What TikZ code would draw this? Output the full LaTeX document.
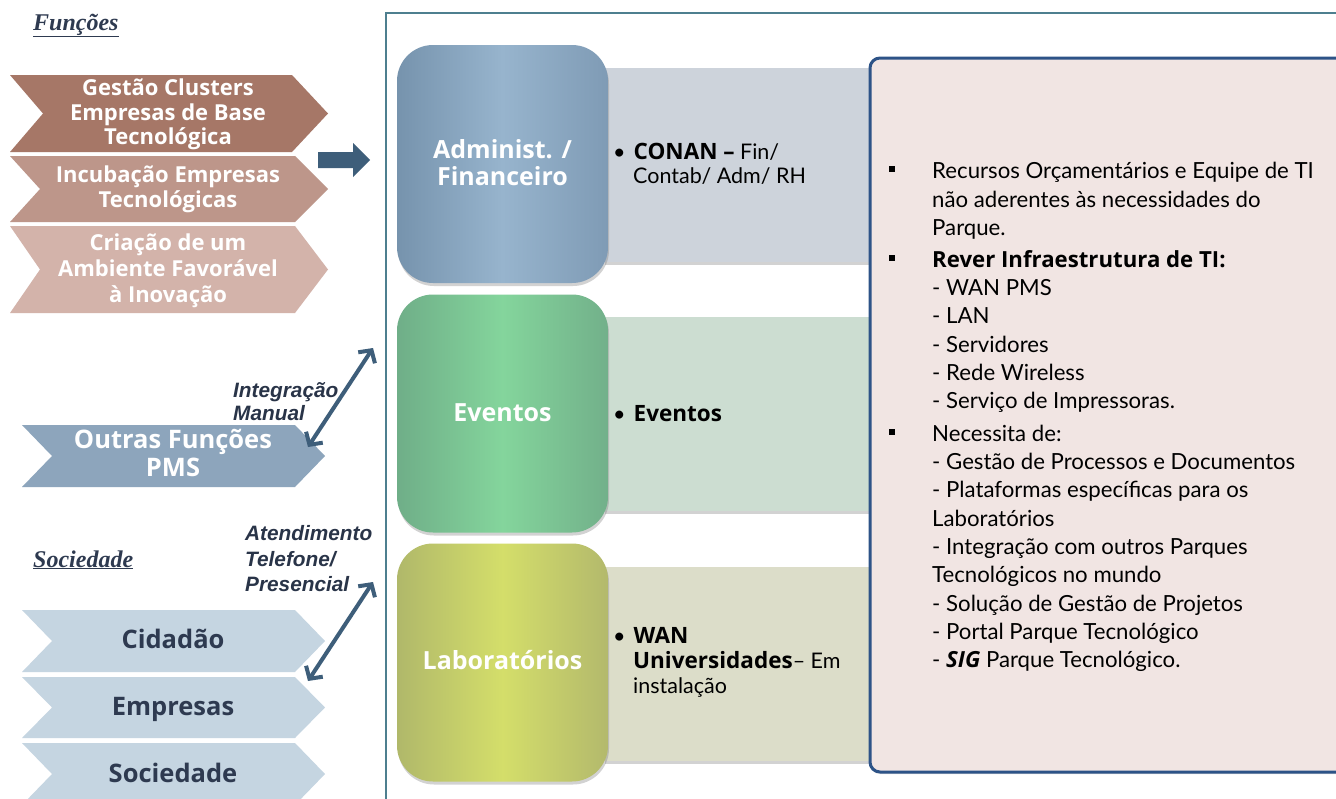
\documentclass[tikz,border=0pt]{standalone}
\usepackage{fontspec}
\setmainfont{Lato}
\newfontfamily\arialf{Liberation Sans}
\newfontfamily\timesf{Liberation Serif}
\newfontfamily\osans{Open Sans}
\newcommand\bb[1]{{\osans\bfseries #1}}
\newcommand\bbar[1]{{\osans\fontsize{22.5}{24}\selectfont\bfseries #1}}
\usetikzlibrary{arrows.meta,shadows,calc}
\definecolor{chA}{HTML}{A67767}
\definecolor{chB}{HTML}{BD968A}
\definecolor{chC}{HTML}{D3B3AA}
\definecolor{chO}{HTML}{8DA5BC}
\definecolor{chS}{HTML}{C5D5E1}
\definecolor{navy}{HTML}{2E3A50}
\definecolor{arrowc}{HTML}{3E5E7A}
\definecolor{framec}{HTML}{4E7F8F}
\definecolor{pinkf}{HTML}{F1E5E3}
\definecolor{pinkd}{HTML}{2D5387}
\definecolor{barA}{HTML}{CDD3DB}
\definecolor{barB}{HTML}{CCDDD1}
\definecolor{barC}{HTML}{DCDDC9}
\definecolor{admL}{HTML}{7693AD}
\definecolor{admM}{HTML}{97B4CD}
\definecolor{admR}{HTML}{7F9BB5}
\definecolor{evtL}{HTML}{6FAE88}
\definecolor{evtM}{HTML}{84D59C}
\definecolor{evtR}{HTML}{72B08A}
\definecolor{labL}{HTML}{B0B86A}
\definecolor{labM}{HTML}{D4DE6A}
\definecolor{labR}{HTML}{B3B96C}
\newcommand\chevshape[7]{\fill[#1] (#2,#6) -- (#4,#6) -- (#5,{(#6+#7)/2}) -- (#4,#7) -- (#2,#7) -- (#3,{(#6+#7)/2}) -- cycle;}
\begin{document}
\begin{tikzpicture}[x=1pt,y=-1pt,
  chevtxt/.style={anchor=base,inner sep=0pt,text=white,font=\osans\fontsize{22}{25}\selectfont\bfseries},
  bigchev/.style={font=\osans\fontsize{25.5}{28}\selectfont\bfseries},
  socitxt/.style={anchor=base,inner sep=0pt,text=navy,font=\osans\fontsize{25.5}{28}\selectfont\bfseries},
  itxt/.style={anchor=base west,inner sep=0pt,text=navy!90!black,font=\arialf\fontsize{20.8}{24}\selectfont\bfseries\itshape},
  head/.style={anchor=base west,inner sep=0pt,text=navy,font=\timesf\fontsize{24}{28}\selectfont\bfseries\itshape},
  sqbox/.style={rounded corners=36pt,minimum width=211pt,minimum height=238pt,inner sep=0pt,
     drop shadow={opacity=0.35,shadow xshift=1pt,shadow yshift=-3pt}},
  sqtxt/.style={anchor=base,inner sep=0pt,text=white,font=\osans\fontsize{25}{28}\selectfont\bfseries},
  barbox/.style={minimum width=270pt,minimum height=194pt,inner sep=0pt,
     drop shadow={opacity=0.35,shadow xshift=0pt,shadow yshift=-3pt}},
  bartxt/.style={anchor=base west,inner sep=0pt,text=black,font=\fontsize{21.5}{24}\selectfont},
  boxtxt/.style={anchor=base west,inner sep=0pt,text=black,font=\fontsize{22.2}{28}\selectfont},
  sqbullet/.style={fill=black,minimum size=6pt,inner sep=0pt},
  dblarrow/.style={draw=arrowc,line width=4pt,arrows={Straight Barb[length=9pt,width=20pt]-Straight Barb[length=9pt,width=20pt]}}
]
\useasboundingbox (0,0) rectangle (1336,798);
\fill[white] (0,0) rectangle (1336,798);

% headers
\node[head] (hfun) at (33,30) {\underline{Funções}};
\node[head] (hsoc) at (33,567) {\underline{Sociedade}};

% top chevrons
\chevshape{chA}{10}{43}{292}{328}{75}{152}
\chevshape{chB}{10}{40}{295}{328}{156}{222}
\chevshape{chC}{10}{40}{295}{328}{226}{313}
\node[chevtxt] (g1) at (168,95) {Gestão Clusters};
\node[chevtxt] (g2) at (168,120) {Empresas de Base};
\node[chevtxt] (g3) at (168,144) {Tecnológica};
\node[chevtxt] (i1) at (168,182) {Incubação Empresas};
\node[chevtxt] (i2) at (168,207) {Tecnológicas};
\node[chevtxt] (c1) at (168,250) {Criação de um};
\node[chevtxt] (c2) at (168,276) {Ambiente Favorável};
\node[chevtxt] (c3) at (168,302) {à Inovação};

% block arrow
\fill[arrowc] (318,152) -- (353,152) -- (353,143) -- (370,160) -- (353,177) -- (353,168) -- (318,168) -- cycle;

% other functions chevron
\chevshape{chO}{22}{52}{295}{325}{425}{487}
\node[chevtxt,bigchev] (o1) at (173,448) {Outras Funções};
\node[chevtxt,bigchev] (o2) at (173,476) {PMS};
\node[itxt] (im1) at (233,397) {Integração};
\node[itxt] (im2) at (233,420) {Manual};

% society chevrons
\chevshape{chS}{22}{52}{295}{325}{610}{672}
\chevshape{chS}{22}{52}{295}{325}{677}{738}
\chevshape{chS}{22}{52}{295}{325}{743}{805}
\node[socitxt] (s1) at (173,648) {Cidadão};
\node[socitxt] (s2) at (173,715) {Empresas};
\node[socitxt] (s3) at (173,782) {Sociedade};
\node[itxt] (at1) at (245,540) {Atendimento};
\node[itxt] (at2) at (245,566) {Telefone/};
\node[itxt] (at3) at (245,591) {Presencial};

% double arrows
\coordinate (a1s) at (308,447);
\coordinate (a1e) at (373,348);
\coordinate (a2s) at (308,681);
\coordinate (a2e) at (373,582);
\draw[dblarrow] (a1s) -- (a1e);
\draw[dblarrow] (a2s) -- (a2e);

% frame
\draw[framec,line width=2.5pt] (386,805) -- (386,13) -- (1345,13);

% bars
\node[barbox,fill=barA] (bar1) at (740,165) {};
\node[barbox,fill=barB] (bar2) at (740,413.5) {};
\node[barbox,fill=barC] (bar3) at (740,663.5) {};

% rounded squares
\node[sqbox,left color=admL,right color=admR,middle color=admM] (adm) at (502.5,164) {};
\node[sqbox,left color=evtL,right color=evtR,middle color=evtM] (evt) at (502.5,413.5) {};
\node[sqbox,left color=labL,right color=labR,middle color=labM] (lab) at (502.5,662.5) {};
\node[sqtxt] (adm1) at (502.5,158) {Administ. /};
\node[sqtxt] (adm2) at (502.5,185) {Financeiro};
\node[sqtxt] (evt1) at (502.5,421) {Eventos};
\node[sqtxt] (lab1) at (502.5,669) {Laboratórios};

% bar texts
\node[bartxt] (b1a) at (613,159) {•\hspace{8pt}\bbar{CONAN –} Fin/};
\node[bartxt] (b1b) at (633,183) {Contab/ Adm/ RH};
\node[bartxt] (b2a) at (613,421) {•\hspace{8pt}\bbar{Eventos}};
\node[bartxt] (b3a) at (613,643) {•\hspace{8pt}\bbar{WAN}};
\node[bartxt] (b3b) at (633,668) {\bbar{Universidades}– Em};
\node[bartxt] (b3c) at (633,693) {instalação};

% pink box
\draw[pinkd,fill=pinkf,line width=3pt,rounded corners=10pt,
  drop shadow={opacity=0.25,shadow xshift=0pt,shadow yshift=-2pt}] (870,58) rectangle (1360,772);
\node[sqbullet] (q1) at (892,169) {};
\node[sqbullet] (q2) at (892,258) {};
\node[sqbullet] (q3) at (892,432) {};
\node[boxtxt] (t1) at (932,178) {Recursos Orçamentários e Equipe de TI};
\node[boxtxt] (t2) at (932,207) {não aderentes às necessidades do};
\node[boxtxt] (t3) at (932,235) {Parque.};
\node[boxtxt] (t4) at (932,267) {\bb{Rever Infraestrutura de TI:}};
\node[boxtxt] (t5) at (932,295) {- WAN PMS};
\node[boxtxt] (t6) at (932,323) {- LAN};
\node[boxtxt] (t7) at (932,352) {- Servidores};
\node[boxtxt] (t8) at (932,380) {- Rede Wireless};
\node[boxtxt] (t9) at (932,408) {- Serviço de Impressoras.};
\node[boxtxt] (t10) at (932,441) {Necessita de:};
\node[boxtxt] (t11) at (932,469) {- Gestão de Processos e Documentos};
\node[boxtxt] (t12) at (932,497) {- Plataformas específicas para os};
\node[boxtxt] (t13) at (932,526) {Laboratórios};
\node[boxtxt] (t14) at (932,554) {- Integração com outros Parques};
\node[boxtxt] (t15) at (932,582) {Tecnológicos no mundo};
\node[boxtxt] (t16) at (932,611) {- Solução de Gestão de Projetos};
\node[boxtxt] (t17) at (932,639) {- Portal Parque Tecnológico};
\node[boxtxt] (t18) at (932,667) {- {\osans\bfseries\itshape SIG} Parque Tecnológico.};
\end{tikzpicture}
\end{document}
